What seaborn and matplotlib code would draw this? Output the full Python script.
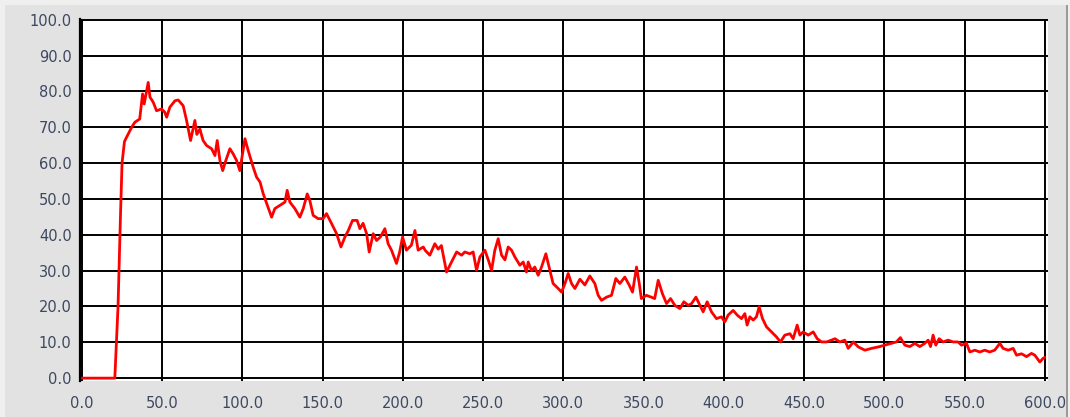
import matplotlib
matplotlib.use("Agg")
import matplotlib.pyplot as plt
from matplotlib.patches import Rectangle
import seaborn as sns
import numpy as np

time_s = [
    0, 20.5, 22.5, 24, 25, 26.5, 27.8, 31, 33, 36, 37.8, 38.8, 41.3, 42.4, 44.4,
    46.5, 49.6, 51.6, 52.8, 54.8, 58, 60, 63.1, 65.2, 67.7, 70.4, 71.6, 73.5,
    75.5, 77.7, 80.8, 82.9, 84.3, 86, 87.7, 89.5, 92.2, 94.2, 96.4, 98.4, 101.6,
    103.6, 106.7, 108.8, 111, 113, 116, 118.2, 120.2, 123.4, 126.5, 127.9,
    129.6, 132.7, 135.8, 137.9, 140.4, 142, 144.1, 147.2, 150.3, 152.4, 155.6,
    158.7, 161.4, 163.9, 166, 168.6, 171.5, 173.2, 175.2, 177.4, 179, 181.5,
    183.6, 186, 188.8, 190.8, 192.9, 196, 198, 199.8, 202.2, 205.3, 207.5,
    209.5, 212.7, 214, 216.8, 219.9, 222, 224, 226.2, 227.2, 230.3, 233.5,
    236.6, 238.6, 241.7, 243.8, 245.9, 248, 251.1, 253.2, 255.3, 257.3, 259.4,
    261.5, 263.6, 265.6, 267.7, 269.8, 272.9, 275, 277, 278.1, 280.2, 282.2,
    284.3, 286.4, 289.1, 291.1, 293.6, 296.8, 298.9, 301, 303, 305.1, 307.2,
    310.3, 313.4, 316.5, 319.6, 321.7, 323.8, 326.9, 330, 332.7, 335.2, 338.3,
    341, 343.1, 345.6, 347.3, 348.6, 351.7, 354.8, 356.9, 359.1, 361.7, 364.3,
    366.8, 369.5, 372.6, 375.1, 377.8, 379.9, 382.6, 385.1, 387.1, 389.6,
    392.3, 395.4, 398.5, 400.6, 402.7, 405.8, 408.3, 411, 413.1, 414.5, 416.2,
    418.3, 420.3, 422, 424.1, 426.6, 429.7, 432.8, 435.3, 438, 441.2, 443.2,
    445.7, 447.4, 449.4, 452.6, 455.7, 458.2, 460.9, 464, 467.1, 469.2, 472.3,
    475.4, 477.5, 480.7, 483.8, 487.9, 492, 496.2, 500.3, 504.4, 507.5, 510,
    512.8, 515.9, 519, 522.1, 525.2, 527.3, 528.8, 530.4, 532.1, 534.2, 536.6,
    539.8, 542.9, 546, 548.1, 551.2, 553.3, 556.4, 559.5, 562.6, 565.7, 568.8,
    572, 574, 577.2, 580.3, 582.4, 585.5, 588.6, 591.7, 593.8, 596.9, 598.9, 600,
]
signal = [
    0, 0, 20, 45, 60, 66, 67.2, 70, 71.4, 72.3, 79.3, 76.5, 82.5, 78.4, 77,
    74.6, 75.1, 74.2, 72.8, 75.6, 77.4, 77.6, 76, 71.9, 66.3, 71.9, 68, 69.5,
    66.3, 64.9, 64, 62.1, 66.3, 60.7, 57.9, 60.5, 64, 62.6, 60.7, 57.9, 66.8,
    63.5, 58.9, 56.1, 54.7, 51.4, 47.7, 44.9, 47.3, 48.2, 49.1, 52.4,
    49.1, 47.3, 44.9, 47.3, 51.4, 49.6, 45.4, 44.5, 44.5, 45.9, 43.1,
    40.3, 36.6, 39.4, 41.2, 44, 44, 41.7, 43.2, 40.3, 35.2, 40.3,
    38.4, 39.4, 41.7, 37.5, 35.7, 32, 35.2, 39.4, 35.7, 37.1, 41.2,
    35.7, 36.6, 35.6, 34.3, 37.5, 36, 37, 32, 29.6, 32.4, 35.2,
    34.3, 35.2, 34.7, 35.2, 30.1, 33.8, 35.7, 33, 30.1, 35.7, 38.9,
    34.3, 33, 36.6, 35.7, 33.8, 31.5, 32.4, 29.6, 32.4, 30, 31,
    28.7, 31, 34.7, 31, 26.4, 25, 24, 26.4, 29.2, 26.4, 25,
    27.6, 26, 28.5, 26.4, 23.1, 21.7, 22.6, 23.1, 27.8, 26.4, 28.2,
    26, 24, 31, 26.4, 22.2, 23.1, 22.6, 22.2, 27.3, 23.6, 20.8,
    22.2, 20.3, 19.4, 21.3, 20.3, 20.8, 22.6, 20.3, 18.5, 21.3,
    18.5, 16.6, 17.1, 15.7, 17.6, 18.9, 17.6, 16.6, 18, 14.8, 17.1,
    16.2, 17.1, 19.9, 16.6, 14.3, 12.9, 11.5, 10.1, 12, 12.4, 11,
    14.8, 12, 12.9, 12, 12.9, 11, 10.1, 10.1, 10.6, 11, 10.1,
    10.6, 8.3, 10.1, 8.7, 7.8, 8.3, 8.7, 9.2, 9.7, 10.1, 11.3,
    9.2, 8.8, 9.7, 8.8, 9.7, 10.6, 8.8, 12, 9.2, 11, 10.1,
    10.6, 10.1, 10.1, 9.2, 9.7, 7.3, 7.8, 7.3, 7.8, 7.3, 7.8,
    9.7, 8.3, 7.8, 8.3, 6.4, 6.8, 6, 6.9, 6.4, 4.5, 5.5, 5.8,
]
x_ticks = np.arange(0, 601, 50)
y_ticks = np.arange(0, 101, 10)

sns.set_style("white")
plt.rcParams['font.family'] = ['DejaVu Sans']

LABEL_COLOR = "#3d4860"

fig = plt.figure(figsize=(10.7, 4.17), dpi=100, facecolor="#efefef")
# grey panel behind the chart, with a thin darker edge on the right
fig.patches.append(Rectangle((5 / 1070, 0), 1061 / 1070, 412 / 417,
                             transform=fig.transFigure, facecolor="#e2e2e2",
                             edgecolor="none", zorder=-10))
fig.patches.append(Rectangle((1066 / 1070, 0), 2 / 1070, 412 / 417,
                             transform=fig.transFigure, facecolor="#9a9a9a",
                             edgecolor="none", zorder=-10))

ax = fig.add_axes([80 / 1070, 36 / 417, 968 / 1070, 362 / 417])
ax.set_zorder(5)
ax.set_facecolor("white")

sns.lineplot(x=time_s, y=signal, ax=ax, color="#ff0000", linewidth=2.0,
             estimator=None, sort=False)

ax.set_xlim(-1.2, 602)
ax.set_ylim(-0.8, 100.2)
ax.set_xticks(x_ticks)
ax.set_yticks(y_ticks)
ax.set_xticklabels([f"{v:.1f}" for v in x_ticks])
ax.set_yticklabels([f"{v:.1f}" for v in y_ticks])
ax.grid(True, color="black", linewidth=1.4)
ax.set_axisbelow(True)

for side in ["top", "right", "bottom"]:
    ax.spines[side].set_visible(False)
ax.spines["left"].set_color("black")
ax.spines["left"].set_linewidth(1.6)

ax.tick_params(axis="both", direction="out", length=5, width=1.4,
               color="#222222", labelsize=10.5, labelcolor=LABEL_COLOR)
ax.tick_params(axis="x", pad=6)
ax.tick_params(axis="y", pad=1)
ax.set_xlabel("")
ax.set_ylabel("")

fig.savefig("out.png", dpi=100, facecolor=fig.get_facecolor())
plt.close(fig)
